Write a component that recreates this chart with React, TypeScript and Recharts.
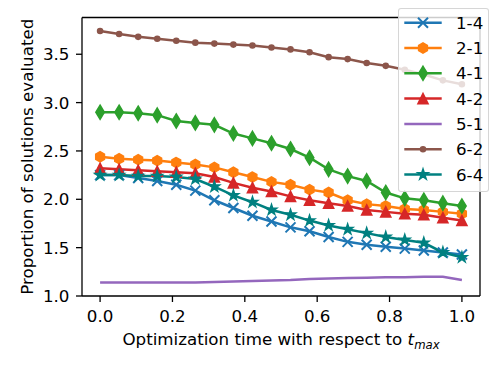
import React from 'react';
import { LineChart, Line, XAxis, YAxis, ReferenceLine, Legend, Label } from 'recharts';

const X_VALUES = [0, 0.0526, 0.1053, 0.1579, 0.2105, 0.2632, 0.3158, 0.3684, 0.4211, 0.4737, 0.5263, 0.5789, 0.6316, 0.6842, 0.7368, 0.7895, 0.8421, 0.8947, 0.9474, 1.0];

const S_1_4 = [2.25, 2.25, 2.22, 2.19, 2.15, 2.09, 1.99, 1.91, 1.83, 1.77, 1.71, 1.67, 1.61, 1.56, 1.53, 1.51, 1.49, 1.47, 1.45, 1.43];
const S_2_1 = [2.44, 2.42, 2.41, 2.40, 2.38, 2.36, 2.33, 2.28, 2.23, 2.18, 2.15, 2.10, 2.07, 1.99, 1.95, 1.93, 1.90, 1.89, 1.87, 1.85];
const S_4_1 = [2.90, 2.90, 2.89, 2.87, 2.81, 2.79, 2.77, 2.68, 2.63, 2.58, 2.52, 2.43, 2.31, 2.24, 2.19, 2.07, 2.01, 1.99, 1.96, 1.93];
const S_4_2 = [2.32, 2.31, 2.30, 2.29, 2.28, 2.27, 2.23, 2.17, 2.12, 2.08, 2.03, 1.99, 1.96, 1.93, 1.89, 1.87, 1.85, 1.84, 1.81, 1.78];
const S_5_1 = [1.14, 1.14, 1.14, 1.14, 1.14, 1.14, 1.145, 1.15, 1.155, 1.16, 1.165, 1.175, 1.18, 1.185, 1.19, 1.195, 1.195, 1.2, 1.2, 1.165];
const S_6_2 = [3.74, 3.71, 3.68, 3.66, 3.64, 3.62, 3.61, 3.60, 3.59, 3.57, 3.55, 3.52, 3.47, 3.45, 3.41, 3.38, 3.34, 3.29, 3.23, 3.19];
const S_6_4 = [2.25, 2.25, 2.24, 2.24, 2.23, 2.21, 2.13, 2.04, 1.97, 1.89, 1.84, 1.78, 1.73, 1.69, 1.65, 1.61, 1.58, 1.55, 1.45, 1.40];

const X_TICKS = [0, 0.2, 0.4, 0.6, 0.8, 1.0];
const Y_TICKS = [1.0, 1.5, 2.0, 2.5, 3.0, 3.5];

type Shape = 'x' | 'h' | 'd' | '^' | 'none' | '.' | '*';

const SERIES: { key: string; name: string; color: string; shape: Shape; values: number[] }[] = [
  { key: 's14', name: '1-4', color: '#1f77b4', shape: 'x', values: S_1_4 },
  { key: 's21', name: '2-1', color: '#ff7f0e', shape: 'h', values: S_2_1 },
  { key: 's41', name: '4-1', color: '#2ca02c', shape: 'd', values: S_4_1 },
  { key: 's42', name: '4-2', color: '#d62728', shape: '^', values: S_4_2 },
  { key: 's51', name: '5-1', color: '#9467bd', shape: 'none', values: S_5_1 },
  { key: 's62', name: '6-2', color: '#8c564b', shape: '.', values: S_6_2 },
  { key: 's64', name: '6-4', color: '#008080', shape: '*', values: S_6_4 },
];

const data = X_VALUES.map((x, i) => {
  const row: Record<string, number> = { x };
  SERIES.forEach(s => { row[s.key] = s.values[i]; });
  return row;
});

const FONT = 'DejaVu Sans';
const FS = 16.7;

function polygon(cx: number, cy: number, n: number, r: number, start: number) {
  const pts: string[] = [];
  for (let k = 0; k < n; k++) {
    const a = (start + (360 / n) * k) * Math.PI / 180;
    pts.push(`${cx + r * Math.cos(a)},${cy - r * Math.sin(a)}`);
  }
  return pts.join(' ');
}

function star(cx: number, cy: number, r: number) {
  const pts: string[] = [];
  for (let k = 0; k < 10; k++) {
    const rr = k % 2 === 0 ? r : r * 0.382;
    const a = (90 + 36 * k) * Math.PI / 180;
    pts.push(`${cx + rr * Math.cos(a)},${cy - rr * Math.sin(a)}`);
  }
  return pts.join(' ');
}

function Marker({ shape, cx, cy, color }: { shape: Shape; cx: number; cy: number; color: string }) {
  const common = { fill: color, stroke: color, strokeWidth: 1.6, strokeLinejoin: 'miter' as const };
  switch (shape) {
    case 'x':
      return <path d={`M${cx - 5},${cy - 5}L${cx + 5},${cy + 5}M${cx - 5},${cy + 5}L${cx + 5},${cy - 5}`} stroke={color} strokeWidth={2} fill="none" />;
    case 'h':
      return <polygon points={polygon(cx, cy, 6, 5, 90)} {...common} />;
    case 'd':
      return <polygon points={`${cx},${cy - 7} ${cx + 4.2},${cy} ${cx},${cy + 7} ${cx - 4.2},${cy}`} {...common} />;
    case '^':
      return <polygon points={`${cx},${cy - 5} ${cx + 5},${cy + 5} ${cx - 5},${cy + 5}`} {...common} />;
    case '.':
      return <circle cx={cx} cy={cy} r={2.5} {...common} />;
    case '*':
      return <polygon points={star(cx, cy, 5.3)} {...common} />;
    default:
      return null;
  }
}

const makeDot = (shape: Shape, color: string) => (props: any) => {
  const { cx, cy, index } = props;
  if (cx == null || cy == null) return <g key={`d-${index}`} />;
  return <g key={`d-${index}`}><Marker shape={shape} cx={cx} cy={cy} color={color} /></g>;
};

const LegendBox = () => (
  <div style={{
    width: 91, height: 184, boxSizing: 'border-box', background: 'rgba(255,255,255,0.8)',
    border: '1px solid rgba(204,204,204,0.8)', borderRadius: 3,
  }}>
    <svg width={89} height={182} style={{ display: 'block' }}>
      {SERIES.map((s, k) => {
        const y = 13.7 + k * 25.3;
        return (
          <g key={s.key}>
            <line x1={5.3} x2={42.7} y1={y} y2={y} stroke={s.color} strokeWidth={2.5} />
            <Marker shape={s.shape} cx={24} cy={y} color={s.color} />
            <text x={57} y={y + 6} fontSize={FS} fontFamily={FONT} fill="#000">{s.name}</text>
          </g>
        );
      })}
    </svg>
  </div>
);

const XLabel = (props: any) => {
  const vb = props.viewBox || { x: 82, y: 296, width: 398 };
  return (
    <text x={vb.x + vb.width / 2} y={vb.y + 49} textAnchor="middle" fontSize={FS} fontFamily={FONT} fill="#000">
      Optimization time with respect to <tspan fontStyle="italic">t</tspan>
      <tspan fontStyle="italic" fontSize={11.7} dy={3.6}>max</tspan>
    </text>
  );
};

const YLabel = (props: any) => {
  const vb = props.viewBox || { x: 0, y: 17.5, width: 82, height: 278.5 };
  const cx = vb.x + 32.6;
  const cy = vb.y + vb.height / 2;
  return (
    <text x={cx} y={cy} transform={`rotate(-90, ${cx}, ${cy})`} textAnchor="middle" fontSize={FS} fontFamily={FONT} fill="#000">
      Proportion of solutions evaluated
    </text>
  );
};

const tickStyle = { fontSize: FS, fill: '#000', fontFamily: FONT };

export default function App() {
  return (
    <div style={{ position: 'absolute', left: 0, top: 0, width: 498, height: 374, background: '#fff' }}>
      <LineChart width={498} height={374} data={data} margin={{ top: 17.5, right: 18, bottom: 0, left: 0 }}>
        <XAxis
          dataKey="x" type="number" domain={[-0.05, 1.05]} ticks={X_TICKS}
          tickFormatter={(v: number) => v.toFixed(1)} height={78}
          axisLine={{ stroke: '#000', strokeWidth: 1.3 }} tickLine={{ stroke: '#000', strokeWidth: 1.3 }}
          tickSize={6} tickMargin={8.5} tick={tickStyle} interval={0}
        >
          <Label content={XLabel} />
        </XAxis>
        <YAxis
          type="number" domain={[1, 3.88]} ticks={Y_TICKS} width={82}
          tickFormatter={(v: number) => v.toFixed(1)}
          axisLine={{ stroke: '#000', strokeWidth: 1.3 }} tickLine={{ stroke: '#000', strokeWidth: 1.3 }}
          tickSize={6} tickMargin={6.5} tick={tickStyle} interval={0}
        >
          <Label content={YLabel} />
        </YAxis>
        <ReferenceLine y={3.88} stroke="#000" strokeWidth={1.3} />
        <ReferenceLine x={1.05} stroke="#000" strokeWidth={1.3} />
        {SERIES.map(s => (
          <Line
            key={s.key} dataKey={s.key} name={s.name} stroke={s.color} strokeWidth={2.5}
            dot={s.shape === 'none' ? false : makeDot(s.shape, s.color)} activeDot={false}
            type="linear" isAnimationActive={false}
          />
        ))}
        <Legend
          layout="vertical" align="center" verticalAlign="middle"
          wrapperStyle={{ left: 398, top: 8, width: 91, height: 184 }}
          content={() => <LegendBox />}
        />
      </LineChart>
    </div>
  );
}
